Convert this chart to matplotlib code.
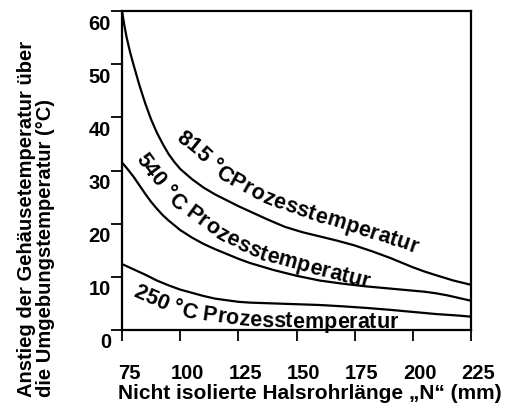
import matplotlib
matplotlib.use("Agg")
import numpy as np
import matplotlib.pyplot as plt
from matplotlib.transforms import ScaledTranslation

plt.rcParams['font.family'] = ['Liberation Sans', 'DejaVu Sans']
plt.rcParams['font.weight'] = 'bold'

# curves (x in mm, y in degC)
x815 = [75, 76, 77, 78.5, 80, 82.5, 85, 87.5, 90, 92.5, 95, 97.5, 100, 105, 110, 115, 120, 125,
        130, 137.5, 145, 152.5, 160, 167.5, 175, 182.5, 190, 195, 200, 205, 210, 217.5, 225]
y815 = [60, 57.3, 55, 52.2, 49.8, 46, 42.6, 39.6, 37.1, 35, 33.1, 31.6, 30.3, 28.4, 26.8, 25.5, 24.4, 23.3,
        22.3, 20.8, 19.4, 18.4, 17.6, 16.8, 15.9, 14.8, 13.6, 12.7, 11.8, 11.0, 10.3, 9.3, 8.5]

x540 = [75, 77.5, 80, 82.5, 85, 87.5, 90, 92.5, 95, 97.5, 100, 105, 110, 115, 120, 125, 130,
        140, 150, 160, 170, 180, 190, 200, 205, 210, 215, 220, 225]
y540 = [31.5, 30.2, 28.8, 27.2, 25.6, 24.1, 22.8, 21.6, 20.6, 19.7, 18.8, 17.4, 16.2, 15.2, 14.3, 13.4, 12.6,
        11.3, 10.2, 9.3, 8.7, 8.2, 7.8, 7.4, 7.2, 6.9, 6.5, 6.0, 5.5]

x250 = [75, 80, 85, 90, 95, 100, 105, 110, 115, 120, 125, 130, 140, 150, 160, 170, 180, 190,
        200, 210, 220, 225]
y250 = [12.4, 11.4, 10.4, 9.3, 8.4, 7.6, 7.0, 6.4, 5.9, 5.6, 5.3, 5.15, 5.0, 4.85, 4.7, 4.45, 4.15, 3.8,
        3.4, 3.0, 2.7, 2.5]

xticks = [75, 100, 125, 150, 175, 200, 225]
yticks = [0, 10, 20, 30, 40, 50, 60]

# curve labels and the middle line of their lettering (data coords)
text815 = "815 °CProzesstemperatur"
lx815 = [99.9, 107.2, 119.3, 136.9, 157.9, 177.3, 202.2]
ly815 = [37.05, 34.6, 29.7, 25.4, 22.2, 19.6, 16.0]

text540 = "540 °C Prozesstemperatur"
lx540 = [83.2, 89.2, 99.1, 117.5, 134.3, 156.6, 181.6]
ly540 = [33.3, 29.7, 24.5, 18.6, 14.9, 12.2, 9.4]

text250 = "250 °C Prozesstemperatur"
lx250 = [80.6, 88.3, 97.8, 105.1, 127.4, 147.2, 169.5, 193.6]
ly250 = [7.9, 6.4, 4.7, 3.8, 2.4, 2.1, 2.0, 1.95]

LABEL_FS = 15.5

fig = plt.figure(figsize=(5.14, 4.10), dpi=100)
ax = fig.add_axes([0.2374, 0.1927, 0.9163 - 0.2374, 0.9707 - 0.1927])

for xs, ys in [(x815, y815), (x540, y540), (x250, y250)]:
    ax.plot(xs, ys, color='black', lw=1.6, solid_joinstyle='round')

ax.set_xlim(75, 225)
ax.set_ylim(0, 60)
ax.set_xticks(xticks)
ax.set_yticks(yticks)
ax.tick_params(direction='out', length=8, width=1.3, labelsize=14.5)
ax.tick_params(axis='x', pad=15.5)
ax.tick_params(axis='y', pad=0)
for s in ax.spines.values():
    s.set_linewidth(1.6)

# tick labels in the reference sit a bit off their ticks
for lab in ax.get_yticklabels():
    lab.set_transform(lab.get_transform() + ScaledTranslation(0, -0.10, fig.dpi_scale_trans))
for lab in ax.get_xticklabels():
    lab.set_transform(lab.get_transform() + ScaledTranslation(0.07, 0, fig.dpi_scale_trans))

fig.canvas.draw()
renderer = fig.canvas.get_renderer()


def text_width(s, fs):
    t = ax.text(0, 0, s, fontsize=fs, fontweight='bold')
    w = t.get_window_extent(renderer).width
    t.remove()
    return w


def curved_label(text, xs, ys, fs):
    P = ax.transData.transform(np.column_stack([xs, ys]))
    d = np.hypot(*np.diff(P, axis=0).T)
    cum = np.concatenate([[0], np.cumsum(d)])

    def at(s):
        # walk along the polyline, running straight on past either end
        i = int(np.clip(np.searchsorted(cum, s, side='right') - 1, 0, len(d) - 1))
        f = (s - cum[i]) / d[i]
        return P[i] + f * (P[i + 1] - P[i])

    space = text_width("a a", fs) - text_width("aa", fs)
    widths = [space if ch == " " else text_width(ch, fs) for ch in text]
    gap = (cum[-1] - sum(widths)) / (len(text) - 1)
    half = 0.36 * fs * fig.dpi / 72
    pos = 0
    for ch, w in zip(text, widths):
        c = pos + w / 2
        pos += w + gap
        if ch == " ":
            continue
        p = at(c)
        a0, a1 = at(c - 7), at(c + 7)
        ang = np.arctan2(a1[1] - a0[1], a1[0] - a0[0])
        q = p - half * np.array([-np.sin(ang), np.cos(ang)])
        xd, yd = ax.transData.inverted().transform(q)
        ax.text(xd, yd, ch, rotation=np.degrees(ang), rotation_mode='anchor',
                ha='center', va='baseline', fontsize=fs, fontweight='bold')


curved_label(text815, lx815, ly815, LABEL_FS)
curved_label(text540, lx540, ly540, LABEL_FS)
curved_label(text250, lx250, ly250, LABEL_FS)

fig.text(310 / 514, 1 - 394 / 410, "Nicht isolierte Halsrohrlänge \u201eN\u201c (mm)",
         ha='center', va='center', fontsize=15, fontweight='bold')
fig.text(36 / 514, 1 - 397 / 410,
         "Anstieg der Gehäusetemperatur über\ndie Umgebungstemperatur (°C)",
         rotation=90, ha='center', va='bottom', multialignment='left',
         fontsize=14.5, fontweight='bold', linespacing=0.95)

fig.savefig("out.png", dpi=100)
